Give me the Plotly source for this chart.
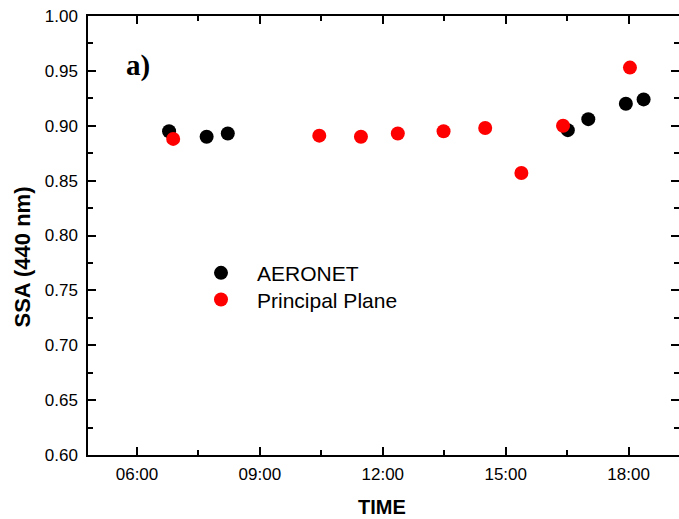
import plotly.graph_objects as go

day = "2000-01-01 "
aeronet_time = ["06:47", "07:42", "08:13", "16:31", "17:01", "17:56", "18:22"]
aeronet_ssa = [0.895, 0.890, 0.893, 0.896, 0.906, 0.920, 0.924]

pp_time = ["06:53", "10:27", "11:28", "12:22", "13:29", "14:30", "15:23", "16:24", "18:02"]
pp_ssa = [0.888, 0.891, 0.890, 0.893, 0.895, 0.898, 0.857, 0.900, 0.953]

x_range = ["04:48:15", "19:13:50"]
y_range = [0.60, 1.00]

font = "Arial, Liberation Sans, sans-serif"
W, H = 679, 519
L, R, T, B = 88, 0, 16, 64
pw, ph = W - L - R, H - T - B


def px_x(p):
    return (p - L) / pw


def px_y(p):
    return (H - B - p) / ph


tick_common = dict(ticks="inside", ticklen=8, tickwidth=1.5, tickcolor="black",
                   showgrid=False, zeroline=False)

fig = go.Figure()
fig.add_trace(go.Scatter(x=[day + t for t in aeronet_time], y=aeronet_ssa, mode="markers",
                         name="AERONET", marker=dict(color="black", size=14), legend="legend"))
fig.add_trace(go.Scatter(x=[day + t for t in pp_time], y=pp_ssa, mode="markers",
                         name="Principal Plane", marker=dict(color="#ff0000", size=14),
                         legend="legend2"))
# empty helper trace so the right-hand tick axis is drawn
fig.add_trace(go.Scatter(x=[], y=[], yaxis="y2", showlegend=False, hoverinfo="skip"))

leg_common = dict(xanchor="left", yanchor="top", font=dict(size=21, family=font),
                  bgcolor="rgba(0,0,0,0)", itemwidth=62)

fig.update_layout(
    width=W, height=H,
    margin=dict(l=L, r=R, t=T, b=B),
    paper_bgcolor="white", plot_bgcolor="white",
    font=dict(family=font, color="black", size=17),
    showlegend=True,
    legend=dict(x=px_x(185), y=px_y(252.7), **leg_common),
    legend2=dict(x=px_x(185), y=px_y(279.3), **leg_common),
    xaxis=dict(type="date", range=[day + x_range[0], day + x_range[1]],
               tickformat="%H:%M", dtick=3 * 3600 * 1000, tick0=day + "06:00",
               showline=True, linewidth=1.5, linecolor="black", mirror="ticks",
               minor=dict(ticks="inside", ticklen=5, tickwidth=1.5, tickcolor="black",
                          dtick=1.5 * 3600 * 1000, tick0=day + "06:00", showgrid=False),
               tickfont=dict(size=17), ticklabelstandoff=3, **tick_common),
    yaxis=dict(range=y_range, dtick=0.05, tickformat=".2f",
               showline=True, linewidth=1.5, linecolor="black", mirror=False,
               minor=dict(ticks="inside", ticklen=5, tickwidth=1.5, tickcolor="black",
                          dtick=0.025, showgrid=False),
               tickfont=dict(size=17), ticklabelstandoff=5, **tick_common),
    yaxis2=dict(range=y_range, dtick=0.05, overlaying="y", side="right", anchor="x",
                showline=False, showticklabels=False,
                minor=dict(ticks="inside", ticklen=5, tickwidth=1.5, tickcolor="black",
                           dtick=0.025, showgrid=False),
                **tick_common),
    annotations=[
        dict(text="<b>a)</b>", x=px_x(124), y=px_y(65), xref="paper", yref="paper",
             xanchor="left", yanchor="middle", showarrow=False,
             font=dict(family="Times New Roman, Liberation Serif, serif", size=29)),
        dict(text="<b>SSA (440 nm)</b>", x=px_x(21.5), y=px_y(257), xref="paper", yref="paper",
             xanchor="center", yanchor="middle", textangle=-90, showarrow=False,
             font=dict(family=font, size=22)),
        dict(text="<b>TIME</b>", x=px_x(382), y=px_y(507), xref="paper", yref="paper",
             xanchor="center", yanchor="middle", showarrow=False,
             font=dict(family=font, size=20)),
    ],
)

fig.write_html("out.html")
